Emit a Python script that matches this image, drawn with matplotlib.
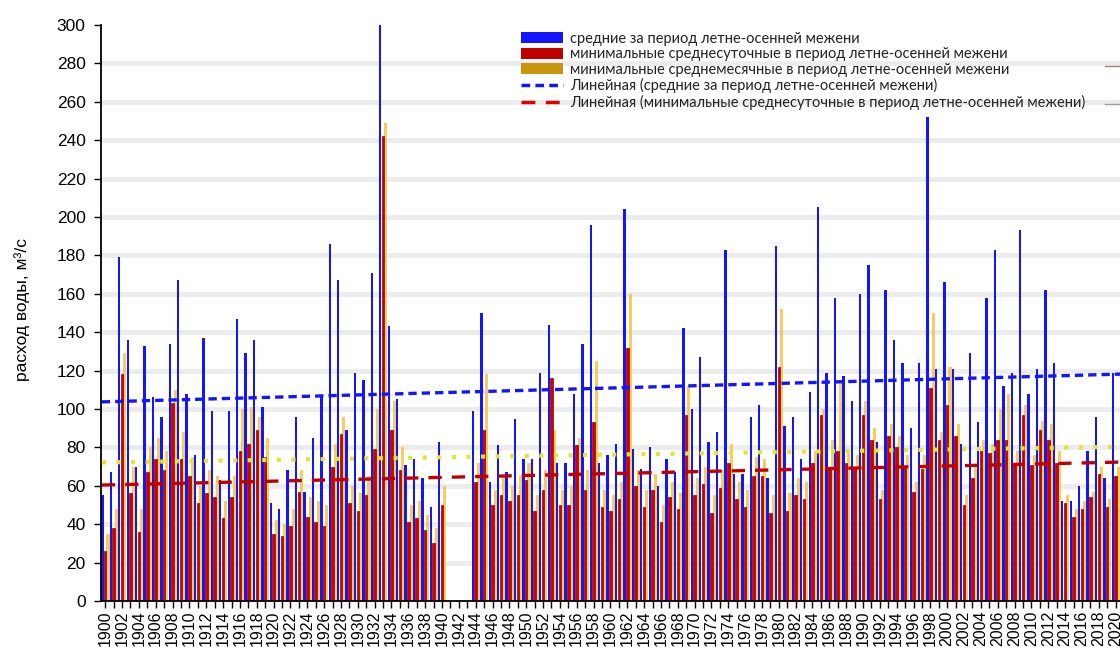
import numpy as np
import matplotlib.pyplot as plt
from matplotlib.patches import Patch
from matplotlib.lines import Line2D

years = list(range(1900, 1941)) + list(range(1944, 2022))

# средние за период летне-осенней межени
mean_flow = [55, 67, 179, 136, 70, 133, 106, 96, 134, 167,
             108, 76, 137, 99, 63, 99, 147, 129, 136, 101,
             51, 48, 68, 96, 57, 85, 106, 186, 167, 89,
             119, 115, 171, 300, 143, 105, 71, 74, 64, 49, 83,
             99, 150, 62, 81, 67, 95, 74, 74, 119, 144,
             72, 72, 108, 134, 196, 72, 76, 82, 204, 79,
             69, 80, 60, 74, 67, 142, 100, 127, 83, 88,
             183, 66, 66, 96, 102, 64, 185, 91, 96, 74,
             109, 205, 119, 158, 117, 104, 160, 175, 83, 162,
             136, 124, 90, 124, 252, 121, 166, 121, 82, 129,
             93, 158, 183, 112, 119, 193, 108, 121, 162, 124,
             52, 52, 60, 78, 96, 64, 119, 125]

# минимальные среднесуточные
min_daily = [26, 38, 118, 56, 36, 67, 74, 68, 103, 74,
             65, 51, 56, 54, 43, 54, 78, 82, 89, 75,
             35, 34, 39, 57, 44, 41, 39, 70, 87, 51,
             47, 55, 79, 242, 89, 68, 41, 43, 37, 30, 50,
             62, 89, 50, 55, 52, 55, 63, 47, 58, 116,
             50, 50, 81, 58, 93, 49, 47, 53, 132, 60,
             49, 58, 41, 54, 48, 97, 55, 61, 46, 59,
             72, 53, 49, 65, 65, 46, 122, 47, 55, 53,
             72, 97, 70, 78, 72, 70, 97, 84, 53, 86,
             80, 70, 57, 69, 111, 84, 102, 86, 50, 64,
             78, 77, 84, 84, 72, 97, 71, 89, 84, 72,
             51, 44, 48, 54, 66, 49, 65, 72]

# минимальные среднемесячные
min_monthly = [35, 48, 129, 70, 48, 80, 85, 78, 110, 88,
               75, 60, 68, 65, 52, 65, 100, 101, 96, 85,
               42, 40, 48, 68, 54, 52, 50, 82, 96, 60,
               56, 65, 100, 249, 104, 80, 50, 52, 45, 38, 60,
               72, 118, 58, 65, 60, 65, 72, 55, 68, 89,
               58, 60, 85, 68, 125, 58, 55, 62, 160, 68,
               58, 66, 50, 62, 56, 112, 64, 70, 55, 68,
               82, 62, 58, 75, 74, 55, 152, 56, 64, 62,
               78, 100, 84, 115, 78, 76, 104, 90, 58, 92,
               86, 76, 62, 76, 150, 88, 122, 92, 55, 70,
               84, 82, 100, 108, 78, 102, 76, 94, 92, 78,
               55, 48, 52, 57, 70, 53, 70, 76]

labels = ["средние за период летне-осенней межени",
          "минимальные среднесуточные в период летне-осенней межени",
          "минимальные среднемесячные в период летне-осенней межени",
          "Линейная (средние за период летне-осенней межени)",
          "Линейная (минимальные среднесуточные в период летне-осенней межени)"]

BLUE = '#1414ff'
RED = '#d40000'
GOLD = '#f6c642'

W, H = 1120, 652
fig = plt.figure(figsize=(W / 100, H / 100), dpi=100)
px = 8.42
ax = fig.add_axes([101 / W, 51 / H, 122 * px / W, 576 / H])

x = np.array(years, dtype=float)
ax.bar(x - 0.33, mean_flow, width=0.28, color=BLUE, zorder=2)
ax.bar(x, min_daily, width=0.3, color=RED, edgecolor='#900000', linewidth=0.5, zorder=2)
ax.bar(x + 0.33, min_monthly, width=0.36, color=GOLD, alpha=0.85, zorder=1.9)

xs = np.array([1899.6, 2021.5])
pb = np.polyfit(x, mean_flow, 1)
pr = np.polyfit(x, min_daily, 1)
pg = np.polyfit(x, min_monthly, 1)
ax.plot(xs, np.polyval(pg, xs), color='#e4e436', lw=3, ls=(0, (1, 2.5)), zorder=3)
ax.plot(xs, np.polyval(pr, xs), color='#c00000', lw=2.4, ls=(0, (4, 3)), zorder=3)
ax.plot(xs, np.polyval(pb, xs), color=BLUE, lw=2.4, ls=(0, (2.5, 1.5)), zorder=3)

ax.set_xlim(1899.5, 2021.5)
ax.set_ylim(0, 300)
ax.set_yticks(range(0, 301, 20))
for yv in range(20, 300, 20):
    ax.axhline(yv, color='#ececec', lw=3.5, zorder=0)

ax.set_xticks(range(1900, 2022))
ax.set_xticklabels([str(y) if y % 2 == 0 else '' for y in range(1900, 2022)],
                   rotation=90, fontsize=11.5, family='Liberation Sans')
ax.tick_params(axis='x', length=5, width=1, direction='out', pad=2)
ax.tick_params(axis='y', length=5, width=1, direction='out', labelsize=12.5, pad=6)
for t in ax.get_yticklabels():
    t.set_family('Liberation Sans')
for s in ['top', 'right']:
    ax.spines[s].set_visible(False)
ax.spines['left'].set_linewidth(1.3)
ax.spines['bottom'].set_linewidth(1.3)

fig.text(22 / W, 1 - 310 / H, 'расход воды, м³/с', rotation=90, ha='center', va='center',
         fontsize=12.5, family='Liberation Sans')

handles = [Patch(facecolor=BLUE), Patch(facecolor='#c00000'), Patch(facecolor='#c8960a'),
           Line2D([], [], color=BLUE, lw=2.5, ls=(0, (2.5, 1.5))),
           Line2D([], [], color='#e00000', lw=2.5, ls=(0, (4, 3)))]
leg = fig.legend(handles, labels, loc='upper left', bbox_to_anchor=(515 / W, 1 - 26 / H),
                 frameon=False, handlelength=2.9, handleheight=0.75,
                 handletextpad=0.45, labelspacing=0.1, borderaxespad=0,
                 prop={'family': ['Lato', 'DejaVu Sans'], 'size': 10.5})
for t in leg.get_texts():
    t.set_color('#222222')

fig.add_artist(Line2D([1105 / W, 1.0], [1 - 66 / H, 1 - 66 / H], color='#a08080', lw=1))
fig.add_artist(Line2D([1105 / W, 1.0], [1 - 104 / H, 1 - 104 / H], color='#a0a0a0', lw=1))

fig.savefig('out.png', dpi=100)
